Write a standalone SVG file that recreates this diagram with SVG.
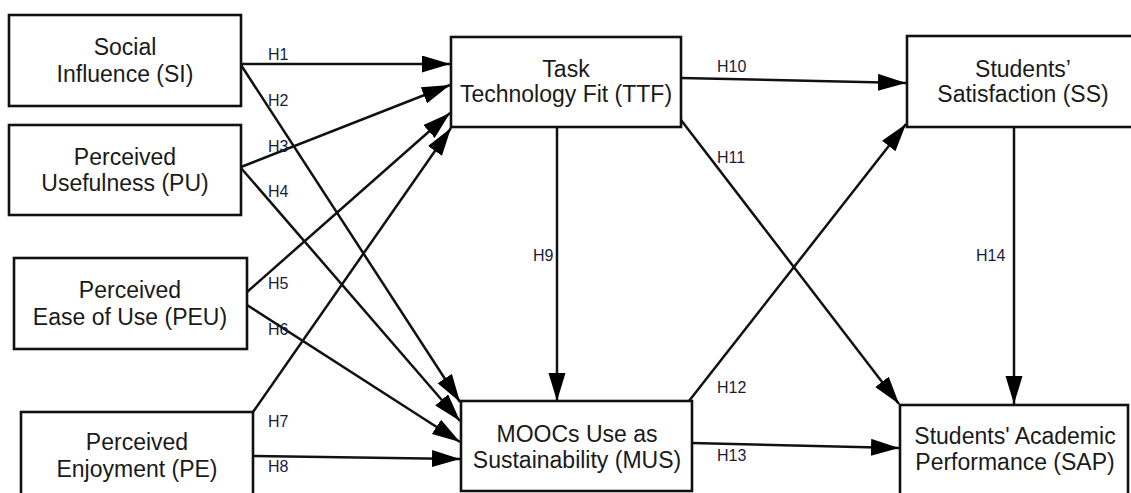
<svg xmlns="http://www.w3.org/2000/svg" width="1131" height="493" viewBox="0 0 1131 493">
  <style>
    .box { fill: #ffffff; stroke: #111111; stroke-width: 2.6; }
    .lbl { font-family: "Liberation Sans", Arial, sans-serif; font-size: 23px; fill: #1a1a1a; text-anchor: middle; }
    .hyp { font-family: "Liberation Sans", Arial, sans-serif; font-size: 16px; fill: #1c1c3a; }
    .edge { stroke: #111111; stroke-width: 2.5; fill: none; marker-end: url(#arrow); }
  </style>
  <defs>
    <marker id="arrow" markerUnits="userSpaceOnUse" markerWidth="30" markerHeight="18" refX="28" refY="8.5" orient="auto">
      <path d="M0,0 L28,8.5 L0,17 z" fill="#000000"/>
    </marker>
  </defs>
  <rect width="1131" height="493" fill="#ffffff"/>

  <!-- connectors -->
  <g id="connectors">
    <line class="edge" x1="241" y1="64" x2="450" y2="64"/>
    <line class="edge" x1="241" y1="65" x2="460" y2="402"/>
    <line class="edge" x1="241" y1="167" x2="450" y2="85"/>
    <line class="edge" x1="241" y1="168" x2="460" y2="421"/>
    <line class="edge" x1="247" y1="292" x2="450" y2="113"/>
    <line class="edge" x1="247" y1="305" x2="460" y2="442"/>
    <line class="edge" x1="253" y1="412" x2="451" y2="128"/>
    <line class="edge" x1="253" y1="456" x2="460" y2="459"/>
    <line class="edge" x1="557" y1="127" x2="557" y2="401"/>
    <line class="edge" x1="681" y1="78" x2="906" y2="83"/>
    <line class="edge" x1="681" y1="120" x2="899" y2="404"/>
    <line class="edge" x1="689" y1="401" x2="906" y2="124"/>
    <line class="edge" x1="692" y1="443" x2="899" y2="448"/>
    <line class="edge" x1="1014" y1="127" x2="1014" y2="404"/>

    <text class="hyp" x="268" y="60">H1</text>
    <text class="hyp" x="268" y="106">H2</text>
    <text class="hyp" x="268" y="152">H3</text>
    <text class="hyp" x="268" y="197">H4</text>
    <text class="hyp" x="268" y="289">H5</text>
    <text class="hyp" x="268" y="335">H6</text>
    <text class="hyp" x="268" y="427">H7</text>
    <text class="hyp" x="268" y="472">H8</text>
    <text class="hyp" x="533" y="261">H9</text>
    <text class="hyp" x="717" y="72">H10</text>
    <text class="hyp" x="717" y="163">H11</text>
    <text class="hyp" x="717" y="393">H12</text>
    <text class="hyp" x="717" y="461">H13</text>
    <text class="hyp" x="976" y="261">H14</text>
  </g>

  <g id="node-si">
    <rect class="box" x="9" y="15" width="232" height="91"/>
    <text class="lbl" x="125" y="55">Social</text>
    <text class="lbl" x="125" y="82">Influence (SI)</text>
  </g>
  <g id="node-pu">
    <rect class="box" x="9" y="125" width="232" height="90"/>
    <text class="lbl" x="125" y="165">Perceived</text>
    <text class="lbl" x="125" y="191">Usefulness (PU)</text>
  </g>
  <g id="node-peu">
    <rect class="box" x="14" y="258" width="233" height="91"/>
    <text class="lbl" x="130" y="298">Perceived</text>
    <text class="lbl" x="130" y="325">Ease of Use (PEU)</text>
  </g>
  <g id="node-pe">
    <rect class="box" x="21" y="412" width="232" height="100"/>
    <text class="lbl" x="137" y="450">Perceived</text>
    <text class="lbl" x="137" y="477">Enjoyment (PE)</text>
  </g>
  <g id="node-ttf">
    <rect class="box" x="451" y="37" width="230" height="90"/>
    <text class="lbl" x="566" y="77">Task</text>
    <text class="lbl" x="566" y="102">Technology Fit (TTF)</text>
  </g>
  <g id="node-mus">
    <rect class="box" x="461" y="401" width="231" height="90"/>
    <text class="lbl" x="577" y="442">MOOCs Use as</text>
    <text class="lbl" x="577" y="468">Sustainability (MUS)</text>
  </g>
  <g id="node-ss">
    <rect class="box" x="907" y="36" width="240" height="91"/>
    <text class="lbl" x="1023" y="77">Students’</text>
    <text class="lbl" x="1023" y="102">Satisfaction (SS)</text>
  </g>
  <g id="node-sap">
    <rect class="box" x="900" y="405" width="228" height="100"/>
    <text class="lbl" x="1015" y="444">Students' Academic</text>
    <text class="lbl" x="1015" y="470">Performance (SAP)</text>
  </g>
</svg>
